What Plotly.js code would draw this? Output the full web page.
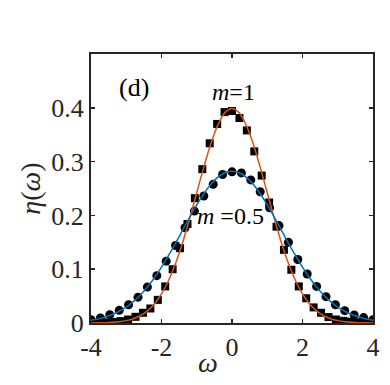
<!DOCTYPE html>
<html>
<head>
<meta charset="utf-8">
<script src="https://cdn.plot.ly/plotly-3.0.1.min.js"></script>
<style>
  html, body { margin: 0; padding: 0; background: #fff; }
  #PLOT { width: 390px; height: 385px; }
</style>
</head>
<body>
<div id="PLOT"></div>
<script>
// simulated points, m = 1 (squares)
var wSq = [-4, -3.789, -3.579, -3.368, -3.158, -2.947, -2.737, -2.526, -2.316, -2.105,
  -1.895, -1.684, -1.474, -1.263, -1.053, -0.842, -0.632, -0.421, -0.211, 0,
  0.211, 0.421, 0.632, 0.842, 1.053, 1.263, 1.474, 1.684, 1.895, 2.105,
  2.316, 2.526, 2.737, 2.947, 3.158, 3.368, 3.579, 3.789, 4];
var etaSq = [0.0005, 0.0008, 0.0012, 0.002, 0.0035, 0.0065, 0.0115, 0.019, 0.027, 0.043,
  0.068, 0.1, 0.139, 0.184, 0.232, 0.286, 0.334, 0.37, 0.392, 0.394,
  0.381, 0.358, 0.319, 0.274, 0.224, 0.179, 0.136, 0.099, 0.068, 0.046,
  0.029, 0.019, 0.011, 0.0065, 0.004, 0.0025, 0.0015, 0.001, 0.0006];

// simulated points, m = 0.5 (circles)
var wCi = [-4, -3.733, -3.467, -3.2, -2.933, -2.667, -2.4, -2.133, -1.867, -1.6,
  -1.333, -1.067, -0.8, -0.533, -0.267, 0, 0.267, 0.533, 0.8, 1.067,
  1.333, 1.6, 1.867, 2.133, 2.4, 2.667, 2.933, 3.2, 3.467, 3.733, 4];
var etaCi = [0.006, 0.0093, 0.0155, 0.0235, 0.034, 0.048, 0.067, 0.088, 0.115, 0.144,
  0.177, 0.208, 0.236, 0.258, 0.276, 0.281, 0.279, 0.266, 0.244, 0.214,
  0.181, 0.15, 0.118, 0.091, 0.068, 0.049, 0.034, 0.023, 0.015, 0.01, 0.006];

// theory curves
var wLine = [-4, -3.8, -3.6, -3.4, -3.2, -3, -2.8, -2.6, -2.4, -2.2, -2, -1.8, -1.6, -1.4,
  -1.2, -1, -0.8, -0.6, -0.4, -0.2, 0, 0.2, 0.4, 0.6, 0.8, 1, 1.2, 1.4, 1.6, 1.8,
  2, 2.2, 2.4, 2.6, 2.8, 3, 3.2, 3.4, 3.6, 3.8, 4];
var etaLine1 = [0.0001, 0.0003, 0.0006, 0.0012, 0.0024, 0.0044, 0.0079, 0.0136, 0.0224, 0.0355,
  0.054, 0.079, 0.1109, 0.1497, 0.1942, 0.242, 0.2897, 0.3332, 0.3683, 0.391, 0.3989,
  0.391, 0.3683, 0.3332, 0.2897, 0.242, 0.1942, 0.1497, 0.1109, 0.079, 0.054,
  0.0355, 0.0224, 0.0136, 0.0079, 0.0044, 0.0024, 0.0012, 0.0006, 0.0003, 0.0001];
var etaLine05 = [0.0052, 0.0076, 0.0111, 0.0157, 0.0218, 0.0297, 0.0397, 0.052, 0.0669, 0.0841,
  0.1038, 0.1255, 0.1486, 0.1728, 0.1968, 0.2197, 0.2402, 0.2578, 0.2711, 0.2793, 0.2821,
  0.2793, 0.2711, 0.2578, 0.2402, 0.2197, 0.1968, 0.1728, 0.1486, 0.1255, 0.1038,
  0.0841, 0.0669, 0.052, 0.0397, 0.0297, 0.0218, 0.0157, 0.0111, 0.0076, 0.0052];

var serif = '"Liberation Serif", "Times New Roman", serif';
var axisCol = '#262626';

var traces = [
  {x: wSq, y: etaSq, type: 'scatter', mode: 'markers',
    marker: {symbol: 'square', size: 8, color: '#000'}},
  {x: wCi, y: etaCi, type: 'scatter', mode: 'markers',
    marker: {symbol: 'circle', size: 9, color: '#000'}},
  {x: wLine, y: etaLine1, type: 'scatter', mode: 'lines',
    line: {color: '#D95319', width: 1.5, shape: 'spline'}},
  {x: wLine, y: etaLine05, type: 'scatter', mode: 'lines',
    line: {color: '#0072BD', width: 1.5, shape: 'spline'}}
];

var axisBase = {
  showline: true, linecolor: axisCol, linewidth: 2, mirror: 'ticks',
  ticks: 'inside', ticklen: 4, tickwidth: 1.5, tickcolor: axisCol,
  showgrid: false, zeroline: false,
  tickfont: {family: serif, size: 26, color: axisCol}
};

var layout = {
  width: 390, height: 385,
  margin: {l: 91, r: 17, t: 54, b: 62},
  paper_bgcolor: '#fff', plot_bgcolor: '#fff',
  showlegend: false,
  xaxis: Object.assign({}, axisBase, {
    range: [-4, 4], tickvals: [-4, -2, 0, 2, 4], ticktext: ['-4', '-2', '0', '2', '4']
  }),
  yaxis: Object.assign({}, axisBase, {
    range: [0, 0.5], tickvals: [0, 0.1, 0.2, 0.3, 0.4, 0.5],
    ticktext: ['0', '0.1', '0.2', '0.3', '0.4', ''],
    title: {text: '<i>η</i>(<i>ω</i>)', font: {family: serif, size: 28, color: axisCol}, standoff: 2}
  }),
  annotations: [
    {text: '(d)', x: 0.153, y: 0.875, xref: 'paper', yref: 'paper', showarrow: false,
      xanchor: 'center', yanchor: 'middle',
      font: {family: serif, size: 26, color: '#000'}},
    {text: '<i>m</i>=1', x: 0.05, y: 0.43, xref: 'x', yref: 'y', showarrow: false,
      xanchor: 'center', yanchor: 'middle',
      font: {family: serif, size: 24, color: '#000'}},
    {text: '<i>m</i> =0.5', x: -0.05, y: 0.198, xref: 'x', yref: 'y', showarrow: false,
      xanchor: 'center', yanchor: 'middle',
      font: {family: serif, size: 24, color: '#000'}},
    {text: '<i>ω</i>', x: -0.68, y: -0.145, xref: 'x', yref: 'paper', showarrow: false,
      xanchor: 'center', yanchor: 'middle',
      font: {family: serif, size: 28, color: axisCol}}
  ]
};

Plotly.newPlot(document.getElementById('PLOT'), traces, layout, {staticPlot: true});
</script>
</body>
</html>
